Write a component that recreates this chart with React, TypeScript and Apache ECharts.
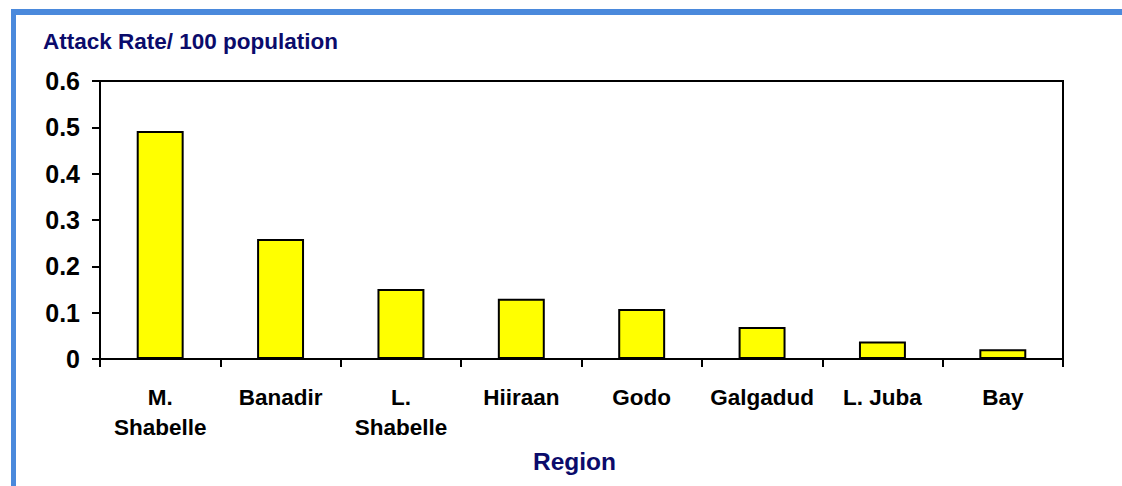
import React, { useEffect, useRef } from "react";
import * as echarts from "echarts";

const categories = ["M.\nShabelle", "Banadir", "L.\nShabelle", "Hiiraan", "Godo", "Galgadud", "L. Juba", "Bay"];
const attackRates = [0.492, 0.259, 0.151, 0.13, 0.108, 0.069, 0.038, 0.021];
const yTicks = { min: 0, max: 0.6, interval: 0.1 };
const titleText = "Attack Rate/ 100 population";
const xAxisTitle = "Region";

const FONT = '"Liberation Sans", Arial, sans-serif';

export default function App() {
  const ref = useRef<HTMLDivElement>(null);
  useEffect(() => {
    if (!ref.current) return;
    const chart = echarts.init(ref.current, null, { renderer: "svg" });
    chart.setOption({
      animation: false,
      backgroundColor: "#ffffff",
      textStyle: { fontFamily: FONT },
      grid: {
        left: 100,
        top: 81,
        right: 59,
        bottom: 127,
        outerBoundsMode: "none",
        containLabel: false,
        show: true,
        borderColor: "#000000",
        borderWidth: 2,
        backgroundColor: "transparent",
      },
      graphic: [
        { type: "rect", shape: { x: 11, y: 9, width: 5, height: 480 }, style: { fill: "#4a89dc" }, silent: true },
        { type: "rect", shape: { x: 11, y: 9, width: 1115, height: 6 }, style: { fill: "#4a89dc" }, silent: true },
        {
          type: "text",
          left: 43,
          top: 30,
          style: { text: titleText, fill: "#0b0b6b", font: `bold 22.5px ${FONT}` },
        },
      ],
      xAxis: {
        type: "category",
        data: categories,
        name: xAxisTitle,
        nameLocation: "middle",
        nameGap: 90,
        nameTextStyle: {
          color: "#0b0b6b",
          fontWeight: "bold",
          fontSize: 24.5,
          fontFamily: FONT,
          padding: [0, 14, 0, 0],
        },
        axisLine: { lineStyle: { color: "#000", width: 2 } },
        axisTick: { show: true, length: 8, lineStyle: { color: "#000", width: 2 }, alignWithLabel: false },
        axisLabel: {
          color: "#000",
          fontWeight: "bold",
          fontSize: 22.5,
          fontFamily: FONT,
          lineHeight: 30,
          margin: 23,
          interval: 0,
        },
      },
      yAxis: {
        type: "value",
        min: yTicks.min,
        max: yTicks.max,
        interval: yTicks.interval,
        splitLine: { show: false },
        axisLine: { show: true, lineStyle: { color: "#000", width: 2 } },
        axisTick: { show: true, length: 8, lineStyle: { color: "#000", width: 2 } },
        axisLabel: {
          color: "#000",
          fontWeight: "bold",
          fontSize: 25,
          fontFamily: FONT,
          margin: 20,
          formatter: (v: number) => (v === 0 ? "0" : v.toFixed(1)),
        },
      },
      series: [
        {
          type: "bar",
          data: attackRates,
          barWidth: "39%",
          itemStyle: { color: "#ffff00", borderColor: "#000", borderWidth: 2 },
        },
      ],
    });
    return () => chart.dispose();
  }, []);
  return (
    <div
      ref={ref}
      style={{ position: "absolute", left: 0, top: 0, width: 1122, height: 486 }}
    />
  );
}
